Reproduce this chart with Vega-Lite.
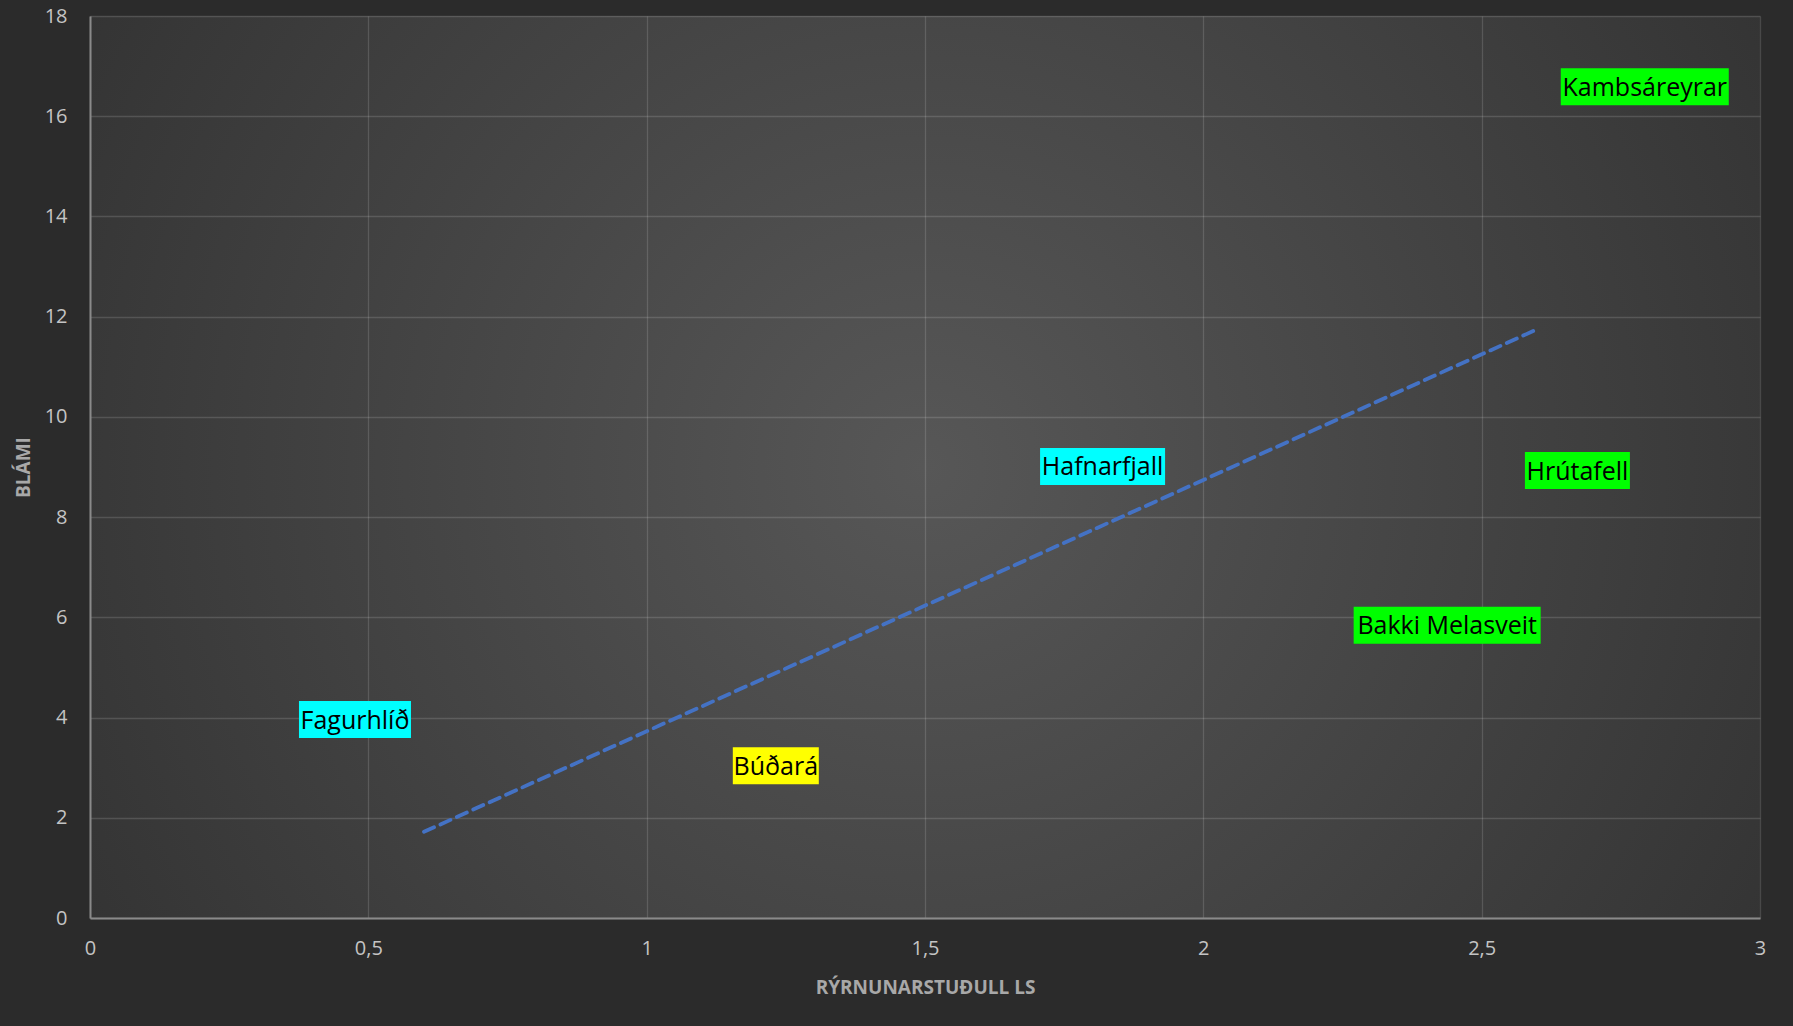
{
  "$schema": "https://vega.github.io/schema/vega-lite/v6.json",
  "autosize": "none",
  "width": 1670,
  "height": 902,
  "padding": {"left": 90, "top": 16, "right": 33, "bottom": 108},
  "background": "#2b2b2b",
  "datasets": {
    "stadir": [
      {"stadur": "Kambsáreyrar", "rs": 2.793, "blami": 16.59, "hopur": "A"},
      {"stadur": "Hrútafell", "rs": 2.672, "blami": 8.93, "hopur": "A"},
      {"stadur": "Bakki Melasveit", "rs": 2.438, "blami": 5.84, "hopur": "A"},
      {"stadur": "Hafnarfjall", "rs": 1.819, "blami": 9.01, "hopur": "B"},
      {"stadur": "Fagurhlíð", "rs": 0.476, "blami": 3.96, "hopur": "B"},
      {"stadur": "Búðará", "rs": 1.232, "blami": 3.04, "hopur": "C"}
    ],
    "leitni": [
      {"rs": 0.6, "blami": 1.72},
      {"rs": 2.6, "blami": 11.75}
    ]
  },
  "config": {
    "view": {
      "stroke": null,
      "fill": {
        "gradient": "radial",
        "x1": 0.5, "y1": 0.5, "r1": 0,
        "x2": 0.5, "y2": 0.5, "r2": 0.72,
        "stops": [
          {"offset": 0, "color": "#575757"},
          {"offset": 1, "color": "#2b2b2b"}
        ]
      }
    },
    "font": "Open Sans",
    "axis": {
      "gridColor": "#ffffff",
      "gridOpacity": 0.14,
      "gridWidth": 1.3,
      "domainColor": "#8a8a8a",
      "domainWidth": 2,
      "ticks": false,
      "tickSize": 0,
      "labelFlush": false,
      "labelColor": "#c4c4c4",
      "labelFont": "Open Sans",
      "labelFontSize": 20,
      "titleColor": "#a8a8a8",
      "titleFont": "Open Sans",
      "titleFontSize": 19,
      "titleFontWeight": "bold"
    }
  },
  "layer": [
    {
      "data": {"name": "leitni"},
      "mark": {"type": "line", "color": "#4472C4", "strokeWidth": 3.8, "strokeDash": [11, 7], "strokeCap": "round"},
      "encoding": {
        "x": {"field": "rs", "type": "quantitative"},
        "y": {"field": "blami", "type": "quantitative"}
      }
    },
    {
      "data": {"name": "stadir"},
      "mark": {"type": "point", "filled": true, "opacity": 1, "size": 40000, "strokeWidth": 0},
      "encoding": {
        "x": {"field": "rs", "type": "quantitative"},
        "y": {"field": "blami", "type": "quantitative"},
        "color": {
          "field": "hopur", "type": "nominal", "legend": null,
          "scale": {"domain": ["A", "B", "C"], "range": ["#00FF00", "#00FFFF", "#FFFF00"]}
        },
        "shape": {
          "field": "stadur", "type": "nominal", "legend": null,
          "scale": {
            "domain": ["Kambsáreyrar", "Hrútafell", "Bakki Melasveit", "Hafnarfjall", "Fagurhlíð", "Búðará"],
            "range": [
              "M-0.84,-0.185L0.84,-0.185L0.84,0.185L-0.84,0.185Z",
              "M-0.525,-0.185L0.525,-0.185L0.525,0.185L-0.525,0.185Z",
              "M-0.935,-0.185L0.935,-0.185L0.935,0.185L-0.935,0.185Z",
              "M-0.625,-0.185L0.625,-0.185L0.625,0.185L-0.625,0.185Z",
              "M-0.56,-0.185L0.56,-0.185L0.56,0.185L-0.56,0.185Z",
              "M-0.43,-0.185L0.43,-0.185L0.43,0.185L-0.43,0.185Z"
            ]
          }
        }
      }
    },
    {
      "data": {"name": "stadir"},
      "mark": {"type": "text", "font": "Open Sans", "fontSize": 25, "color": "#000000", "align": "center", "baseline": "middle", "dy": 1},
      "encoding": {
        "x": {
          "field": "rs", "type": "quantitative",
          "scale": {"domain": [0, 3], "nice": false, "zero": true},
          "axis": {
            "values": [0, 0.5, 1, 1.5, 2, 2.5, 3],
            "labelExpr": "replace(format(datum.value, '~g'), '.', ',')",
            "labelPadding": 20,
            "labelBaseline": "top",
            "title": "RÝRNUNARSTUÐULL LS",
            "titleBaseline": "alphabetic",
            "titleY": 75,
            "titleX": 835
          }
        },
        "y": {
          "field": "blami", "type": "quantitative",
          "scale": {"domain": [0, 18], "nice": false},
          "axis": {
            "values": [0, 2, 4, 6, 8, 10, 12, 14, 16, 18],
            "labelPadding": 23,
            "title": "BLÁMI",
            "titleBaseline": "alphabetic",
            "titleX": -61,
            "titleY": 451
          }
        },
        "text": {"field": "stadur", "type": "nominal"}
      }
    }
  ]
}
